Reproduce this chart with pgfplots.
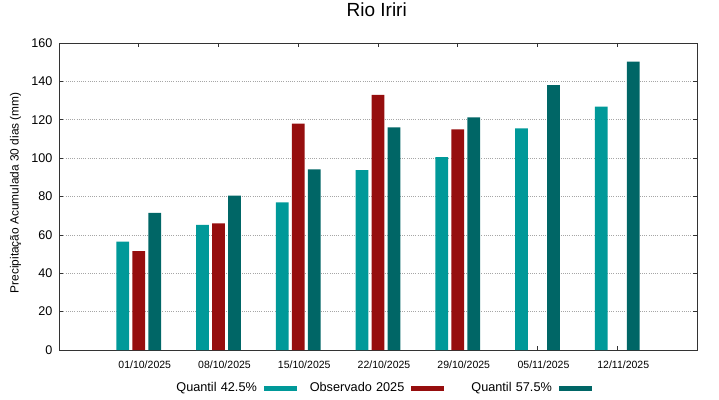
\documentclass[border=0pt]{standalone}
\usepackage{fontspec}
\setmainfont{Liberation Sans}
\usepackage{pgfplots}
\pgfplotsset{compat=1.18}
\definecolor{cA}{RGB}{0,153,153}
\definecolor{cB}{RGB}{150,14,14}
\definecolor{cC}{RGB}{0,102,102}
\begin{document}
\begin{tikzpicture}
\path[use as bounding box] (0,0) rectangle (719pt,399pt);
\begin{axis}[
  at={(59pt,49pt)}, anchor=south west,
  scale only axis, width=638pt, height=307pt,
  xmin=-1, xmax=7, ymin=0, ymax=160,
  xtick={0,1,2,3,4,5,6},
  xticklabels={01/10/2025,08/10/2025,15/10/2025,22/10/2025,29/10/2025,05/11/2025,12/11/2025},
  ytick={0,20,...,160},
  tick align=inside,
  major tick length=4pt,
  axis line style={black!80, line width=0.8pt},
  tick style={black!80, line width=0.6pt},
  ymajorgrids,
  grid style={gray!70, line width=0.6pt, dash pattern=on 1pt off 1.2pt},
  /pgf/number format/assume math mode=true,
  yticklabel style={font=\fontsize{12.6}{14}\selectfont, xshift=-3pt},
  xticklabel style={font=\fontsize{10.5}{12}\selectfont, yshift=-7pt, xshift=6pt},
  title={Rio Iriri},
  title style={font=\fontsize{19}{22}\selectfont, at={(axis description cs:0.498,1.068)}, anchor=base},
  ylabel={Precipitação Acumulada 30 dias (mm)},
  every axis y label/.style={at={(axis description cs:-0.0682,0.512)}, rotate=90, anchor=center, font=\fontsize{11.9}{14}\selectfont},
  legend columns=3,
  legend plot pos=right,
  legend style={draw=none, fill=none, inner sep=0pt, at={(axis description cs:0.1531,-0.1238)}, anchor=west,
    font=\fontsize{12.7}{15}\selectfont,
    nodes={inner xsep=0pt},
    /tikz/every odd column/.append style={column sep=7pt},
    /tikz/every even column/.append style={column sep=7.5pt}},
]
\addplot[ybar, bar width=12.7pt, bar shift=-16pt, fill=cA, draw=none,
  legend image code/.code={\fill[cA] (0pt,-2.5pt) rectangle (33pt,2.5pt);}]
  coordinates {(0,56.5) (1,65.2) (2,76.9) (3,93.7) (4,100.5) (5,115.5) (6,126.8)};
\addlegendentry[text width=100pt, align=right]{Quantil 42.5\%}
\addplot[ybar, bar width=12.7pt, bar shift=0pt, fill=cB, draw=none,
  legend image code/.code={\fill[cB] (0pt,-2.5pt) rectangle (33pt,2.5pt);}]
  coordinates {(0,51.5) (1,66.0) (2,118.0) (3,133.0) (4,115.0)};
\addlegendentry[text width=100pt, align=right]{Observado 2025}
\addplot[ybar, bar width=12.7pt, bar shift=16pt, fill=cC, draw=none,
  legend image code/.code={\fill[cC] (0pt,-2.5pt) rectangle (33pt,2.5pt);}]
  coordinates {(0,71.5) (1,80.5) (2,94.2) (3,116.0) (4,121.3) (5,138.0) (6,150.3)};
\addlegendentry[text width=100pt, align=right]{Quantil 57.5\%}
\end{axis}
\end{tikzpicture}
\end{document}
